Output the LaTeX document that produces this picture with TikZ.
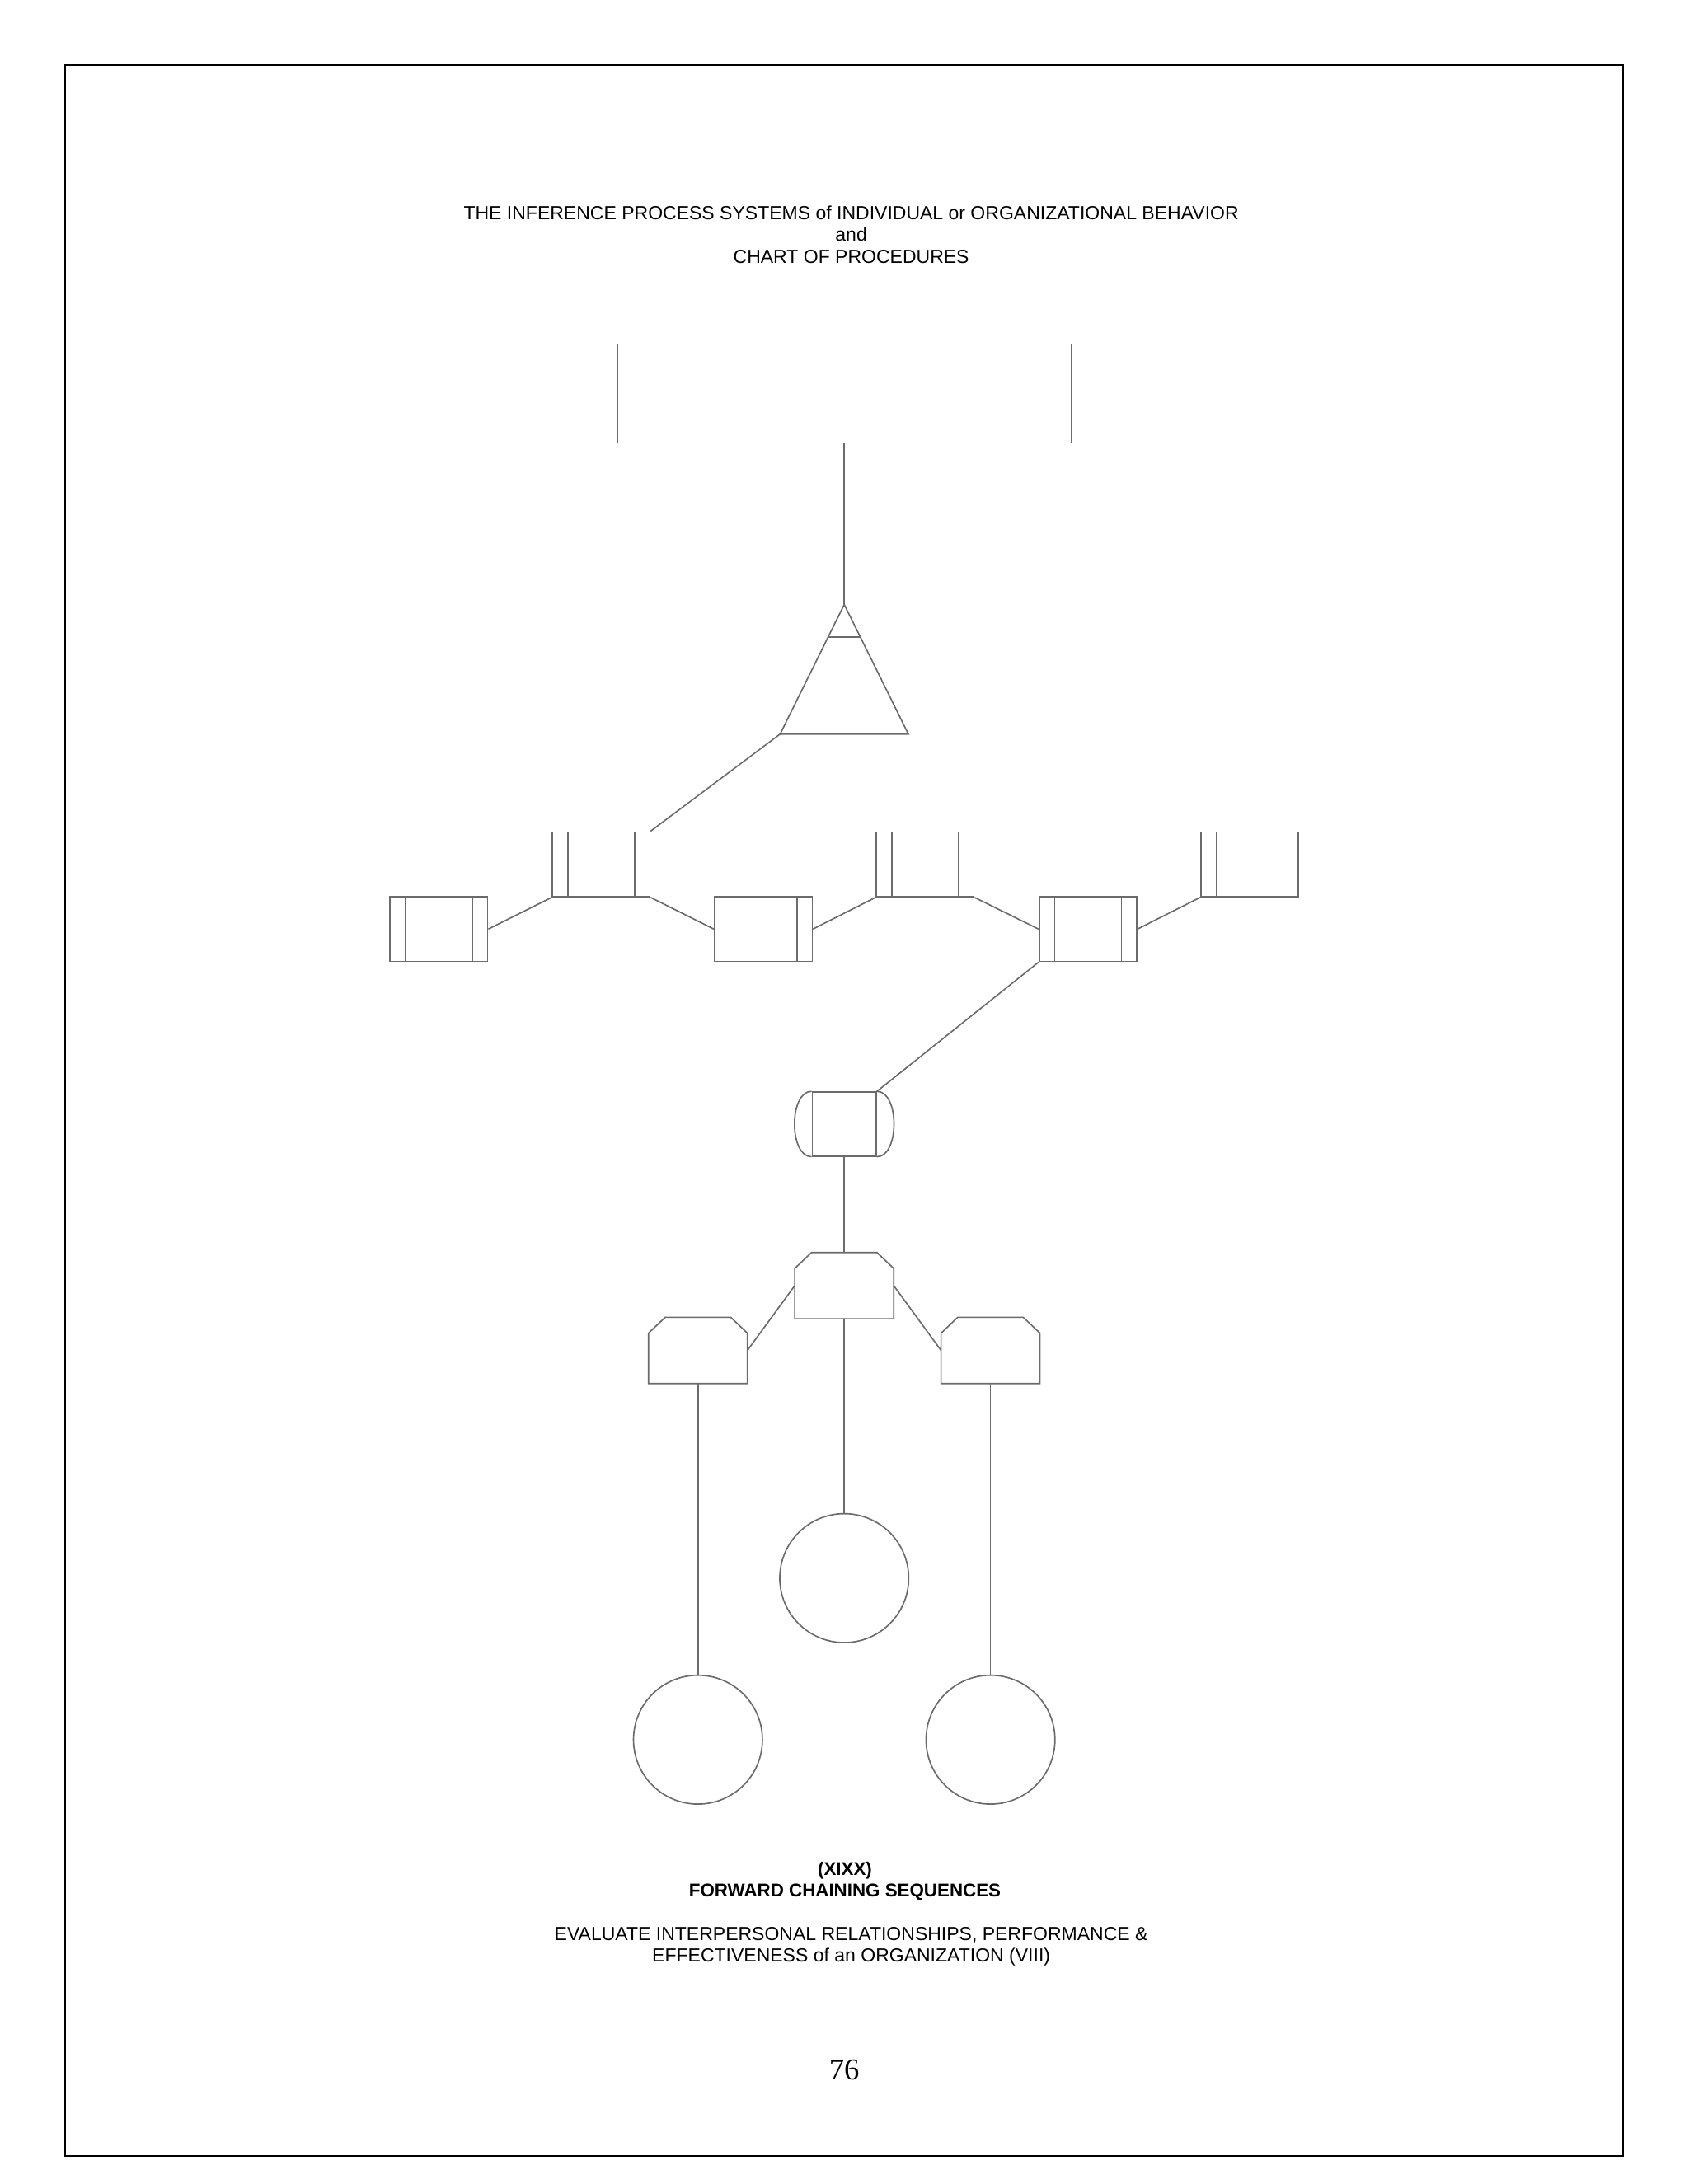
\documentclass[tikz,border=0pt]{standalone}
\usepackage{fontspec}
\setmainfont{Liberation Sans}
\newfontfamily\numfont{Liberation Serif}
\usepackage{xcolor}
\usepackage{tikz}
\usetikzlibrary{calc}
\definecolor{linegray}{gray}{0.42}

\begin{document}
\begin{tikzpicture}[
    x=0.50684pt, y=-0.50684pt,
    line width=0.5pt,
    txt/.style={align=center, font=\fontsize{6.9}{7.8}\selectfont, inner sep=0pt},
    mainbox/.style={draw=linegray, minimum width=165.2pt, minimum height=36pt, inner sep=0pt},
    procbox/.style={
        draw=linegray,
        minimum width=35.5pt,
        minimum height=23.6pt,
        inner sep=0pt,
        path picture={
            \draw[linegray] ([xshift=5.6pt]path picture bounding box.north west) -- ([xshift=5.6pt]path picture bounding box.south west);
            \draw[linegray] ([xshift=-5.6pt]path picture bounding box.north east) -- ([xshift=-5.6pt]path picture bounding box.south east);
        }
    },
    storebox/.style={
        draw=linegray,
        minimum width=23.3pt,
        minimum height=23.3pt,
        inner sep=0pt,
        append after command={
            (\tikzlastnode.north west) edge[linegray, out=180, in=180, looseness=.89] (\tikzlastnode.south west)
            (\tikzlastnode.north east) edge[linegray, out=0, in=0, looseness=.89] (\tikzlastnode.south east)
        }
    },
    chambox/.style={
        minimum width=35.5pt,
        minimum height=23.6pt,
        inner sep=0pt,
        append after command={
            \pgfextra{
                \draw[linegray] ([yshift=-5.8pt]\tikzlastnode.north west) -- ([xshift=6.1pt]\tikzlastnode.north west)
                    -- ([xshift=-6.1pt]\tikzlastnode.north east) -- ([yshift=-5.8pt]\tikzlastnode.north east)
                    -- (\tikzlastnode.south east) -- (\tikzlastnode.south west) -- cycle;
            }
        }
    },
    endcircle/.style={circle, draw=linegray, minimum size=46.9pt, inner sep=0pt},
    link/.style={draw=linegray}
]
\useasboundingbox (0,0) rectangle (1212,1568);
\draw[black, line width=0.6pt] (47,47) rectangle (1165,1548);

% headings
\node[txt] (title) at (611,168.5) {THE INFERENCE PROCESS SYSTEMS of INDIVIDUAL or ORGANIZATIONAL BEHAVIOR\\and\\CHART OF PROCEDURES};

% top of the chart
\node[mainbox] (top) at (606,282.5) {};
\coordinate (apex) at (606,434);
\coordinate (tribl) at (560,527);
\coordinate (tribr) at (652,527);
\draw[link] (apex) -- (tribr) -- (tribl) -- cycle;
\draw[link] ($(apex)!.25!(tribl)$) -- ($(apex)!.25!(tribr)$);

% predefined processes
\node[procbox] (procA) at (431.5,620.5) {};
\node[procbox] (procB) at (315,667) {};
\node[procbox] (procC) at (548,667) {};
\node[procbox] (procD) at (664,620.5) {};
\node[procbox] (procE) at (781,667) {};
\node[procbox] (procF) at (897,620.5) {};

\node[storebox] (store) at (606,807) {};

\node[chambox] (chmid) at (606,923) {};
\node[chambox] (chleft) at (501,969.5) {};
\node[chambox] (chright) at (711,969.5) {};

\node[endcircle] (endmid) at (606,1133) {};
\node[endcircle] (endleft) at (501,1249) {};
\node[endcircle] (endright) at (711,1249) {};

\draw[link] (top.south) -- (apex);
\draw[link] (tribl) -- (procA.north east);
\draw[link] (procB.east) -- (procA.south west);
\draw[link] (procA.south east) -- (procC.west);
\draw[link] (procC.east) -- (procD.south west);
\draw[link] (procD.south east) -- (procE.west);
\draw[link] (procE.east) -- (procF.south west);
\draw[link] (procE.south west) -- (store.north east);
\draw[link] (store.south) -- (chmid.north);
\draw[link] (chmid.west) -- (chleft.east);
\draw[link] (chmid.east) -- (chright.west);
\draw[link] (chleft.south) -- (endleft.north);
\draw[link] (chmid.south) -- (endmid.north);
\draw[link] (chright.south) -- (endright.north);

% captions
\node[txt, font=\fontsize{6.7}{7.8}\selectfont\bfseries] (caption) at (606.5,1350.5) {(XIXX)\\FORWARD CHAINING SEQUENCES};
\node[txt] (desc) at (611,1397.5) {EVALUATE INTERPERSONAL RELATIONSHIPS, PERFORMANCE \&\\EFFECTIVENESS of an ORGANIZATION (VIII)};
\node[font=\numfont\fontsize{11}{13}\selectfont, inner sep=0pt] (pagenum) at (606,1486) {76};
\end{tikzpicture}
\end{document}
